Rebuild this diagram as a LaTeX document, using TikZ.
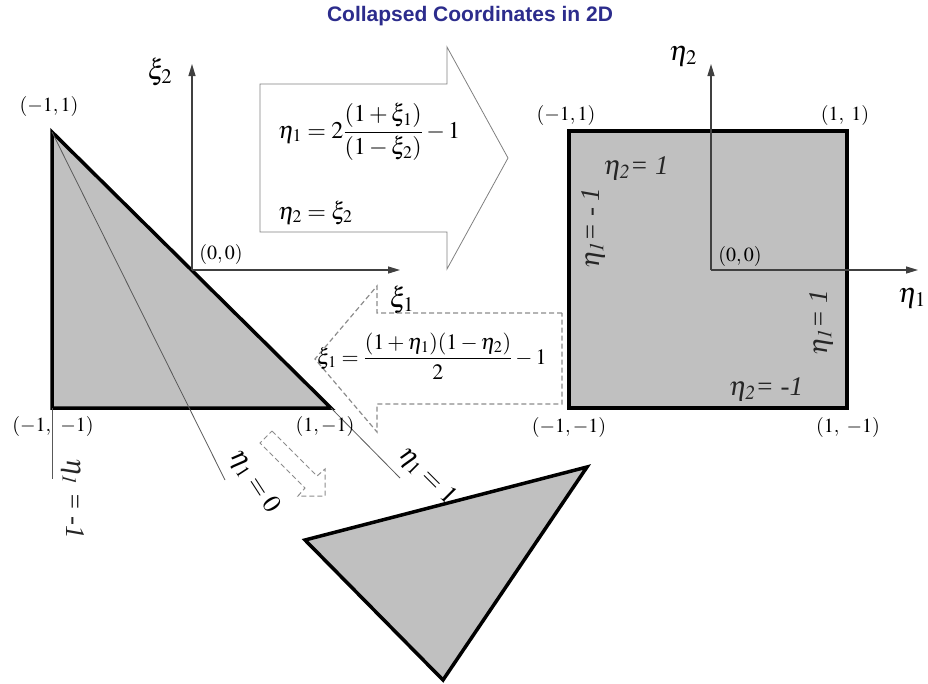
\documentclass[tikz,border=0pt]{standalone}
\usepackage{mathptmx}
\usepackage{fontspec}
\setmainfont{Liberation Serif}
\newfontfamily\titlefont{Liberation Sans}
\usetikzlibrary{arrows.meta}
\definecolor{titleblue}{RGB}{44,44,140}
\definecolor{elemgray}{RGB}{192,192,192}

\begin{document}
\begin{tikzpicture}[
  x=1pt, y=-1pt,
  every node/.style={inner sep=1pt, font=\fontsize{20}{23}\selectfont},
  elem/.style={draw=black, fill=elemgray, line width=3.5pt, line join=miter},
  axis/.style={draw=black!75, line width=1.2pt, -{Triangle[length=12pt,width=7pt]}},
  guide/.style={draw=black!65, line width=0.8pt},
  blockarrow/.style={draw=black!50, line width=0.8pt, line join=miter},
  dashblock/.style={draw=black!45, line width=1.2pt, dash pattern=on 5pt off 3pt},
  eq/.style={anchor=base west, font=\fontsize{22}{26}\selectfont},
  axlabel/.style={font=\fontsize{28}{32}\selectfont},
  edgelabel/.style={text=black!85, font=\fontsize{27}{30}\selectfont\itshape},
  linelabel/.style={font=\fontsize{26}{30}\selectfont}
]
\useasboundingbox (0,0) rectangle (928,683);

% --- TITLE ---
\node[text=titleblue, font={\titlefont\bfseries\fontsize{21}{25}\selectfont}] (title) at (470,16) {Collapsed Coordinates in 2D};

% --- LEFT TRIANGLE ---
\coordinate (tA) at (52,132);
\coordinate (tB) at (52,408);
\coordinate (tC) at (331,408);
\coordinate (tO) at (192,270);
\coordinate (eta0end) at (225,480);
\coordinate (eta1end) at (400,478);
\coordinate (etamend) at (52,479);
\coordinate (xi2end) at (192,64);
\coordinate (xi1end) at (400,270);

\draw[elem] (tA) -- (tB) -- (tC) -- cycle;
\draw[guide] (tA) -- (eta0end);
\draw[guide] (tC) -- (eta1end);
\draw[guide] (tB) -- (etamend);
\draw[axis] (tO) -- (xi2end);
\draw[axis] (tO) -- (xi1end);

\node (lblTA) at (49,106) {$(-1,1)$};
\node (lblTO) at (221,254) {$(0,0)$};
\node (lblTB) at (53,426) {$(-1,$\hspace{9pt}$-1)$};
\node (lblTC) at (325,426) {$(1,-1)$};
\node[axlabel] (lblXi2) at (160,72) {$\xi_2$};
\node[axlabel] (lblXi1) at (402,300) {$\xi_1$};

\node[edgelabel, rotate=-90] (lblEtaM) at (73,499) {$\eta_{\mathit{1}}$ = -1};
\node[linelabel, rotate=-57] (lblEta0) at (254,482) {$\eta_1 = 0$};
\node[linelabel, rotate=-45] (lblEta1) at (427,476) {$\eta_1 = 1$};

% --- SQUARE ---
\coordinate (sA) at (569,131);
\coordinate (sC) at (847,408);
\coordinate (sO) at (711,270);
\coordinate (eta2end) at (711,64);
\coordinate (eta1axend) at (918,270);

\draw[elem] (sA) rectangle (sC);
\draw[axis] (sO) -- (eta2end);
\draw[axis] (sO) -- (eta1axend);

\node (lblSA) at (566,115) {$(-1,1)$};
\node (lblSB) at (845,115) {$(1,\ 1)$};
\node (lblSO) at (740,256) {$(0,0)$};
\node (lblSD) at (569,427) {$(-1,-1)$};
\node (lblSC) at (848,427) {$(1,\ -1)$};
\node[axlabel] (lblEta2ax) at (683,56) {$\eta_2$};
\node[axlabel] (lblEta1ax) at (912,298) {$\eta_1$};

\node[edgelabel] (lblTop) at (636,168) {$\eta_{\mathit{2}}$= 1};
\node[edgelabel, rotate=90] (lblLeft) at (593,228) {$\eta_{\mathit{1}}$= - 1};
\node[edgelabel, rotate=90] (lblRight) at (821,323) {$\eta_{\mathit{1}}$= 1};
\node[edgelabel] (lblBottom) at (766,389) {$\eta_{\mathit{2}}$= -1};

% --- MAPPING ARROWS ---
\draw[blockarrow] (260,84) -- (447,84) -- (447,47) -- (508,158) -- (447,269) -- (447,232) -- (260,232) -- cycle;
\node[eq, font=\fontsize{24}{28}\selectfont] (eqEta1) at (277,138) {$\displaystyle \eta_1 = 2\frac{(1+\xi_1)}{(1-\xi_2)} - 1$};
\node[eq, font=\fontsize{24}{28}\selectfont] (eqEta2) at (277,219) {$\eta_2 = \xi_2$};

\draw[dashblock] (562,313) -- (377,313) -- (377,286) -- (315,359) -- (377,432) -- (377,404) -- (562,404) -- cycle;
\node[eq] (eqXi1) at (316,364) {$\displaystyle \xi_1 = \frac{(1+\eta_1)(1-\eta_2)}{2} - 1$};

% small arrow towards the mapped element
\draw[dashblock, line width=1pt] (272,431) -- (317,476) -- (325,469) -- (325,496) -- (298,496) -- (305,488) -- (260,443) -- cycle;

% --- MAPPED TRIANGLE ---
\coordinate (mA) at (305,540);
\coordinate (mB) at (587,467);
\coordinate (mC) at (443,680);
\draw[elem] (mA) -- (mB) -- (mC) -- cycle;

\end{tikzpicture}
\end{document}
